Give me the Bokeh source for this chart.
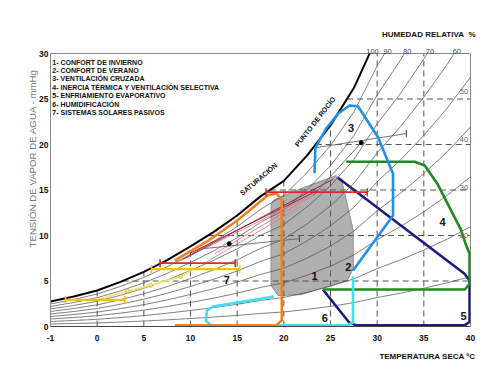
import numpy as np
from bokeh.plotting import figure
from bokeh.models import FixedTicker, Range1d, LinearAxis, Title
from bokeh.embed import file_html
from bokeh.resources import INLINE
from bokeh.core.properties import value

FONT = "Liberation Sans"

# ---------------- data ----------------
# saturation (100 % RH) vapour pressure, deg C -> mmHg
sat_t = [-5, -2.5, 0, 2.5, 5, 7.5, 10, 12.5, 15, 17.5, 20, 22.5, 25, 27.5, 30, 32.5, 35, 37.5, 40]
sat_v = [2.75, 3.3, 3.96, 4.9, 6.0, 7.3, 8.8, 10.4, 12.2, 14.3, 16.0, 18.8, 22.1, 26.2, 31.8, 36.6, 42.0, 48.0, 54.8]
rh_levels = [10, 20, 30, 40, 50, 60, 70, 80, 90]
rh_top_labels = [100, 90, 80, 70, 60]
rh_side_labels = [50, 40, 30, 20]

x_ticks = [-5, 0, 5, 10, 15, 20, 25, 30, 35, 40]
x_tick_labels = ["-1", "0", "5", "10", "15", "20", "25", "30", "35", "40"]
y_ticks = [0, 5, 10, 15, 20, 25, 30]
grid_t = [0, 5, 10, 15, 20, 25, 30, 35]
grid_v = [5, 10, 15, 20, 25]

legend_items = [
    "1- CONFORT DE INVIERNO",
    "2- CONFORT DE VERANO",
    "3- VENTILACIÓN CRUZADA",
    "4- INERCIA TÉRMICA Y VENTILACIÓN SELECTIVA",
    "5- ENFRIAMIENTO EVAPORATIVO",
    "6- HUMIDIFICACIÓN",
    "7- SISTEMAS SOLARES PASIVOS",
]

zone_names = ["1", "2", "3", "4", "5", "6", "7"]
zone_label_t = [23.3, 26.9, 27.2, 37.0, 39.25, 24.4, 13.9]
zone_label_v = [5.6, 6.5, 21.8, 11.45, 1.1, 0.9, 5.15]

# zone 1 + 2 (grey comfort area)
comfort_t = [18.63, 18.85, 21.85, 25.6, 26.26, 27.44, 27.44, 26.8, 24.0, 21.85, 19.38, 18.63]
comfort_v = [13.3, 13.85, 15.16, 16.6, 15.8, 10.55, 6.37, 5.05, 4.18, 3.5, 3.4, 4.5]
# zone 5 (navy)
evap_t = [24.18, 27.0, 27.76, 39.36, 39.9, 39.9, 39.36, 25.8]
evap_v = [4.07, 0.44, 0.12, 0.12, 0.5, 5.05, 5.8, 16.34]
# zone 3 (blue)
vent_t = [23.28, 23.39, 24.54, 25.83, 27.04, 27.94, 30.09, 31.7, 31.7, 27.41]
vent_v = [16.85, 19.64, 21.76, 23.4, 24.29, 24.2, 20.8, 16.78, 12.2, 6.15]
# zone 4 (green)
mass_t = [26.69, 34.02, 35.1, 36.5, 39.0, 39.5, 39.9, 39.9, 39.39, 24.18]
mass_v = [18.1, 18.1, 17.7, 15.6, 10.6, 9.0, 8.0, 4.7, 4.07, 4.07]
# zone 6 (cyan)
humid_t = [18.95, 12.4, 11.76, 11.65, 12.19, 26.79, 27.41, 27.41]
humid_v = [3.3, 2.2, 1.76, 0.66, 0.12, 0.12, 0.44, 5.5]
# orange envelope
orange_t = [8.32, 12.0, 15.05, 18.28, 19.2, 19.78, 19.78, 19.2, 8.32]
orange_v = [7.27, 9.5, 11.67, 14.43, 14.6, 14.0, 0.7, 0.12, 0.12]

# bars with end caps (t_start, t_end, v)
red_bar_t = [[18.09, 28.94], [6.74, 14.8]]
red_bar_v = [14.76, 6.96]
yellow_bar_t = [[5.82, 15.27], [-3.39, 2.95]]
yellow_bar_v = [6.3, 2.93]
pale_t = [0.02, 3.24, 5.74, 8.96, 10.04]
pale_v = [2.94, 3.89, 4.52, 5.51, 6.17]

# thin monthly lines
month_dark_t = [[10.04, 23.65], [9.2, 25.3]]
month_dark_v = [[8.1, 14.95], [7.4, 16.2]]
month_pink_t = [[8.53, 22.71], [11.65, 21.85], [12.6, 24.4]]
month_pink_v = [[7.05, 14.3], [7.05, 13.2], [8.0, 15.2]]
month_grey_t = [[11.47, 21.67], [23.39, 33.13], [28.3, 23.14]]
month_grey_v = [[8.56, 9.66], [19.64, 21.2], [20.2, 14.4]]
dot_t = [14.15, 28.3]
dot_v = [9.1, 20.2]

# ---------------- figure ----------------
p = figure(width=492, height=377, x_range=Range1d(-5, 40), y_range=Range1d(0, 30),
           output_backend="svg", toolbar_location=None,
           min_border_left=50, min_border_right=22, min_border_top=53, min_border_bottom=51)
p.xgrid.visible = False
p.ygrid.visible = False
p.outline_line_color = "#8a8a8a"
p.background_fill_color = "white"
p.border_fill_color = "white"

p.xaxis.ticker = FixedTicker(ticks=x_ticks)
p.xaxis.major_label_overrides = {t: s for t, s in zip(x_ticks, x_tick_labels)}
p.yaxis.ticker = FixedTicker(ticks=y_ticks)
for ax in (p.xaxis, p.yaxis):
    ax.major_tick_in = 0
    ax.major_tick_out = 0
    ax.minor_tick_line_color = None
    ax.major_label_text_font = FONT
    ax.major_label_text_font_style = "bold"
    ax.major_label_text_font_size = "8.5px"
    ax.major_label_text_color = "#111"
p.xaxis.axis_line_color = "#444"
p.yaxis.axis_line_color = "#8a8a8a"
p.xaxis.major_label_standoff = 8
p.yaxis.major_label_standoff = 2

sat_arr = np.array(sat_v)

# RH labels along the top: an extra axis above, ticks where each curve meets 30 mmHg
top_ticks = [round(float(np.interp(30.0 * 100.0 / rh, sat_v, sat_t)) + 0.3, 2) for rh in rh_top_labels]
top_axis = LinearAxis(ticker=FixedTicker(ticks=top_ticks),
                      major_label_overrides={t: str(rh) for t, rh in zip(top_ticks, rh_top_labels)},
                      axis_line_color=None, major_tick_line_color=None, minor_tick_line_color=None,
                      major_label_standoff=-6, major_label_text_font=FONT,
                      major_label_text_font_size="7.5px", major_label_text_color="#444")
p.add_layout(top_axis, "above")

p.add_layout(Title(text="HUMEDAD RELATIVA\u00a0\u00a0%", align="right", offset=-5, standoff=14,
                   text_font=FONT, text_font_style="bold", text_font_size="8px",
                   text_color="#111"), "above")
p.add_layout(Title(text="TEMPERATURA SECA ºC", align="right", offset=-5, standoff=12,
                   text_font=FONT, text_font_style="bold", text_font_size="8px",
                   text_color="#111"), "below")
p.add_layout(Title(text="TENSIÓN DE VAPOR DE AGUA - mmHg", align="left", offset=79, standoff=-3,
                   text_font=FONT, text_font_style="normal", text_font_size="9.7px",
                   text_color="#777"), "left")

# grey comfort patch
p.patch(comfort_t, comfort_v, fill_color="#a9a9a9", fill_alpha=0.92,
        line_color="#8e8e8e", line_width=1)

# relative humidity curves
p.multi_line([sat_t] * len(rh_levels), [list(sat_arr * rh / 100.0) for rh in rh_levels],
             line_color="#4a4a4a", line_width=0.7)

# dashed grid from the saturation curve
for t in grid_t:
    top = min(float(np.interp(t, sat_t, sat_v)), 30)
    p.line([t, t], [0, top], line_color="#555", line_width=1, line_dash="6 4")
for v in grid_v:
    start = float(np.interp(v, sat_v, sat_t))
    p.line([start, 40], [v, v], line_color="#555", line_width=1, line_dash="6 4")

# saturation curve
p.line(sat_t, sat_v, line_color="black", line_width=2)

# thin monthly lines
p.multi_line(month_pink_t, month_pink_v, line_color="#e07890", line_width=0.9)
p.multi_line(month_dark_t, month_dark_v, line_color="#9a1530", line_width=0.9)
p.multi_line(month_grey_t, month_grey_v, line_color="#666", line_width=0.9)
p.scatter(dot_t, dot_v, size=4, color="black")
p.scatter([g[-1] for g in month_grey_t[:2]], [g[-1] for g in month_grey_v[:2]],
          marker="dash", angle=np.pi / 2, size=7, line_color="#555", line_width=1.2)

# zones
lw = 2.6
p.line(evap_t, evap_v, line_color="#1c1c80", line_width=lw, line_join="round")
p.line(mass_t, mass_v, line_color="#1f8a1f", line_width=lw, line_join="round")
p.line(vent_t, vent_v, line_color="#2090ea", line_width=lw, line_join="round")
p.line(humid_t, humid_v, line_color="#3ee0f2", line_width=lw, line_join="round")
p.line(orange_t, orange_v, line_color="#f08020", line_width=lw, line_join="round")

# pale yellow diagonal
p.line(pale_t, pale_v, line_color="#f0e070", line_width=1.6)
p.scatter(pale_t[1:-1], pale_v[1:-1], size=4, marker="circle", fill_color=None, line_color="#d8c040")

# bars with end caps
for ts, v in zip(red_bar_t, red_bar_v):
    p.line(ts, [v, v], line_color="#e0262a", line_width=1.8)
    p.scatter(ts, [v, v], marker="dash", angle=np.pi / 2, size=8, line_color="#e0262a", line_width=1.6)
for ts, v in zip(yellow_bar_t, yellow_bar_v):
    p.line(ts, [v, v], line_color="#f4c20d", line_width=2.2)
    p.scatter(ts, [v, v], marker="dash", angle=np.pi / 2, size=8, line_color="#f4c20d", line_width=1.6)

# zone numbers
p.text(zone_label_t, zone_label_v, text=zone_names, text_font=value(FONT),
       text_font_style="bold", text_font_size="11px", text_align="center",
       text_baseline="middle", text_color="#111")

# legend text
leg_v = [29.05 - 0.925 * i for i in range(len(legend_items))]
p.text([-4.8] * len(legend_items), leg_v, text=legend_items, text_font=value(FONT),
       text_font_style="bold", text_font_size="7px", text_align="left",
       text_baseline="middle", text_color="#111")

# curve labels
p.text([17.3], [16.2], text=["SATURACIÓN"], angle=np.radians(40), text_font=value(FONT),
       text_font_style="bold", text_font_size="7px", text_align="center",
       text_baseline="middle", text_color="#111")
p.text([23.35], [22.5], text=["PUNTO DE ROCÍO"], angle=np.radians(52), text_font=value(FONT),
       text_font_style="bold", text_font_size="7px", text_align="center",
       text_baseline="middle", text_color="#111")

# RH labels on the right side
sat_side = float(np.interp(39.2, sat_t, sat_v))
p.text([39.3] * len(rh_side_labels), [sat_side * rh / 100.0 - 0.5 for rh in rh_side_labels],
       text=[str(r) for r in rh_side_labels], text_font=value(FONT), text_font_size="7.5px",
       text_align="center", text_baseline="middle", text_color="#666")

open("out.html", "w").write(file_html(p, INLINE))
